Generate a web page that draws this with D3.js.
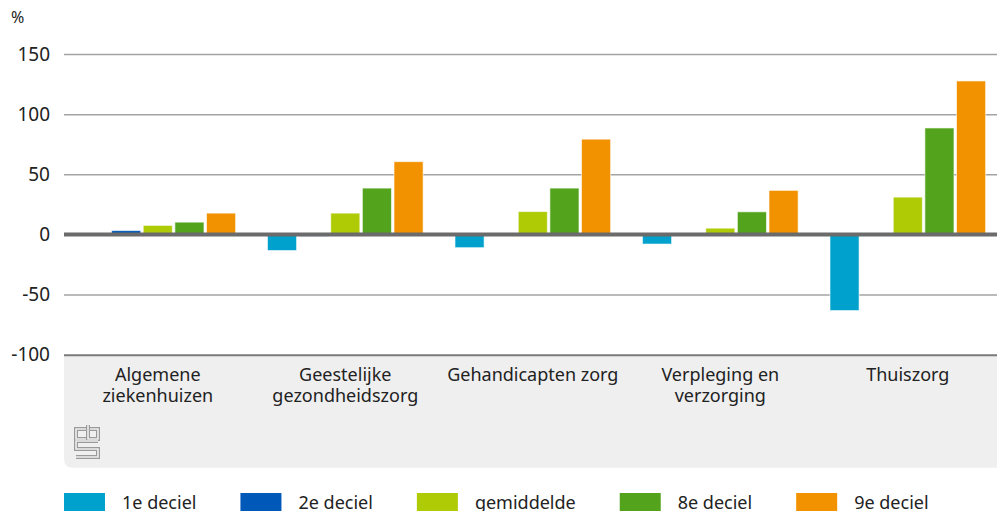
<!DOCTYPE html>
<html>
<head>
<meta charset="utf-8">
<script src="https://cdn.jsdelivr.net/npm/d3@7"></script>
<style>
  html, body { margin: 0; padding: 0; background: #fff; }
  svg { display: block; font-family: "Noto Sans", "Open Sans", sans-serif; }
</style>
</head>
<body>
<svg id="chart" width="997" height="511"></svg>
<script>
const categories = [
  ["Algemene", "ziekenhuizen"],
  ["Geestelijke", "gezondheidszorg"],
  ["Gehandicapten zorg"],
  ["Verpleging en", "verzorging"],
  ["Thuiszorg"]
];
const seriesNames = ["1e deciel", "2e deciel", "gemiddelde", "8e deciel", "9e deciel"];
const seriesColors = ["#00a1cd", "#0058b8", "#afcb05", "#53a31d", "#f39200"];
const deciel1    = [0.5, -13.4, -11, -8, -63.3];
const deciel2    = [3.2, -1.5, 0, 0, 0];
const gemiddelde = [7.5, 17.7, 19, 5.2, 31];
const deciel8    = [10.2, 38.5, 38.5, 18.8, 88.5];
const deciel9    = [17.7, 60.5, 79.2, 36.6, 127.6];
const yTicks = [-100, -50, 0, 50, 100, 150];

const seriesValues = [deciel1, deciel2, gemiddelde, deciel8, deciel9];

const svg = d3.select("#chart");
const mLeft = 64, mRight = 997, mTop = 54, mBottom = 354.7;

const catKeys = categories.map(c => c.join(" "));
const x0 = d3.scaleBand().domain(catKeys).range([mLeft, mRight])
  .paddingInner(0.17).paddingOuter(0.073).align(0.584);
const x1 = d3.scaleBand().domain(seriesNames).range([0, x0.bandwidth()]).paddingInner(0.08);
const y = d3.scaleLinear().domain([-100, 150]).range([mBottom, mTop]);

// grey label band
const bandH = 113, r = 9;
svg.append("path")
  .attr("d", `M${mLeft},${mBottom} H${mRight} V${mBottom + bandH} H${mLeft + r} Q${mLeft},${mBottom + bandH} ${mLeft},${mBottom + bandH - r} Z`)
  .attr("fill", "#efefef");

// axis with gridlines
const axis = svg.append("g")
  .attr("transform", `translate(${mLeft},0)`)
  .call(d3.axisLeft(y).tickValues(yTicks).tickSize(-(mRight - mLeft)).tickPadding(14).tickFormat(d => String(d)));
axis.select(".domain").remove();
axis.selectAll(".tick line")
  .attr("stroke", d => d === -100 ? "#7a7a7a" : "#a3a3a3")
  .attr("stroke-width", d => d === -100 ? 2 : 1.5)
  .attr("opacity", d => d === 0 ? 0 : 1);
axis.selectAll(".tick text")
  .attr("fill", "#222")
  .attr("font-size", 19)
  .attr("font-family", "Noto Sans, sans-serif");

svg.append("text").attr("x", 11).attr("y", 23).attr("font-size", 16).attr("fill", "#222").text("%");

// bars
const rows = categories.map((c, i) => ({
  key: catKeys[i],
  vals: seriesNames.map((s, j) => ({ s, v: seriesValues[j][i], color: seriesColors[j] }))
}));
const g = svg.append("g");
g.selectAll("g.cat").data(rows).join("g")
  .attr("class", "cat")
  .attr("transform", d => `translate(${x0(d.key)},0)`)
  .selectAll("rect").data(d => d.vals).join("rect")
  .attr("x", d => x1(d.s))
  .attr("width", x1.bandwidth())
  .attr("y", d => y(Math.max(0, d.v)))
  .attr("height", d => Math.abs(y(d.v) - y(0)))
  .attr("fill", d => d.color)
  .attr("stroke", "rgba(255,255,255,0.6)")
  .attr("stroke-width", 1);

// zero line
svg.append("line")
  .attr("x1", mLeft).attr("x2", mRight)
  .attr("y1", y(0)).attr("y2", y(0))
  .attr("stroke", "#6b6b6b").attr("stroke-width", 4);

// category labels
const lab = svg.append("g");
rows.forEach((d, i) => {
  const cx = x0(d.key) + x0.bandwidth() / 2;
  categories[i].forEach((line, k) => {
    lab.append("text")
      .attr("x", cx)
      .attr("y", 381 + k * 21)
      .attr("text-anchor", "middle")
      .attr("font-size", 18)
      .attr("fill", "#222")
      .text(line);
  });
});

// logo (approximate cbs mark)
const logo = svg.append("g").attr("fill", "none");
const logoPaths = [
  "M86,429 H76 V439 H86",
  "M88,425 V439 H98 V429 H90",
  "M98,441 H76 V449 H98 V457 H76"
];
logoPaths.forEach(p => {
  logo.append("path").attr("d", p).attr("stroke", "#9a9a9a").attr("stroke-width", 4);
});
logoPaths.forEach(p => {
  logo.append("path").attr("d", p).attr("stroke", "#efefef").attr("stroke-width", 1.6);
});

// legend
const leg = svg.append("g");
let lx = 64;
seriesNames.forEach((s, i) => {
  leg.append("rect").attr("x", lx).attr("y", 493).attr("width", 41).attr("height", 20).attr("fill", seriesColors[i]);
  const t = leg.append("text").attr("x", lx + 58).attr("y", 509).attr("font-size", 18).attr("fill", "#222").text(s);
  const w = t.node().getComputedTextLength();
  lx = lx + 58 + w + 44;
});
</script>
</body>
</html>
